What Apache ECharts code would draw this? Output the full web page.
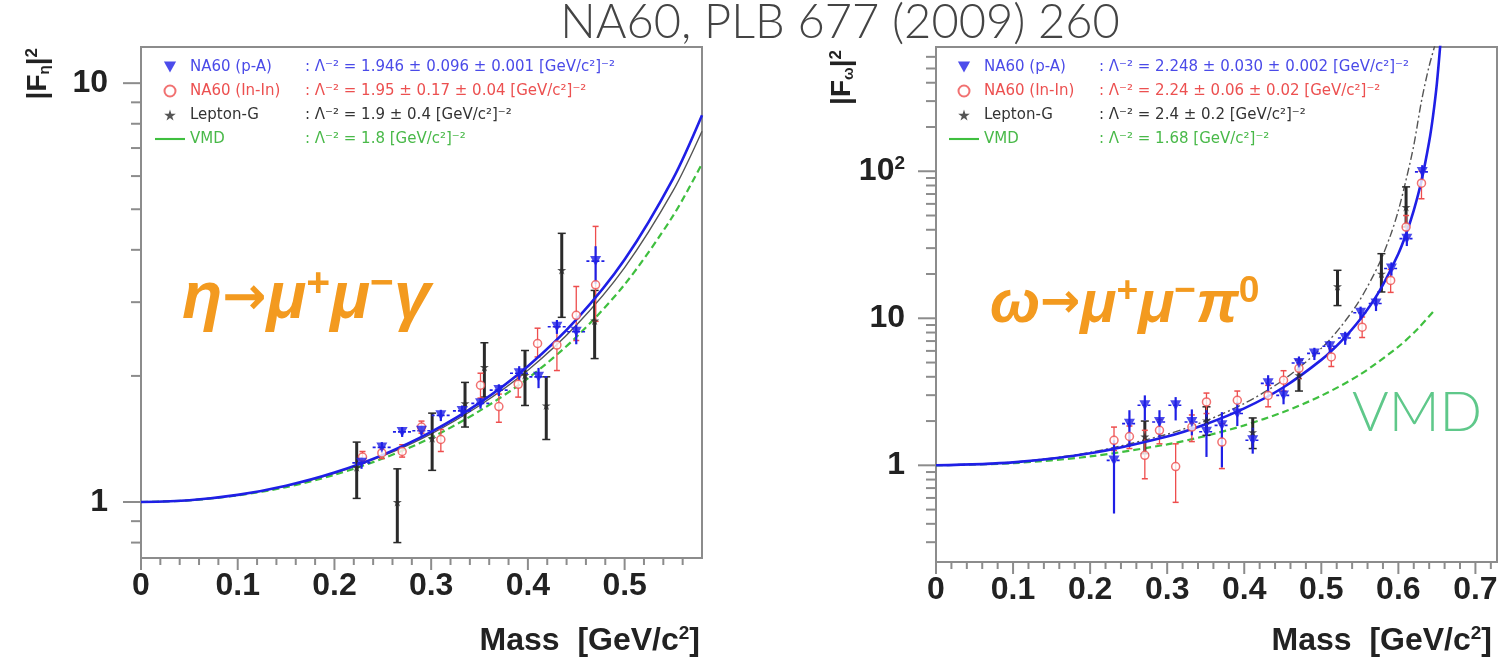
<!DOCTYPE html>
<html>
<head>
<meta charset="utf-8">
<script src="https://cdn.jsdelivr.net/npm/echarts@6/dist/echarts.min.js"></script>
<style>
  html, body { margin: 0; padding: 0; background: #ffffff; }
  #chart { width: 1505px; height: 659px; }
</style>
</head>
<body>
<div id="chart"></div>
<script>
// ---------- eta -> mu+ mu- gamma : |F_eta|^2 vs mass ----------
// points: [mass, value, lower edge, upper edge]
const etaPA = [
  [0.228, 1.24, 1.20, 1.28], [0.249, 1.35, 1.31, 1.39], [0.270, 1.47, 1.43, 1.51],
  [0.290, 1.48, 1.44, 1.52], [0.310, 1.61, 1.56, 1.66], [0.332, 1.65, 1.60, 1.70],
  [0.351, 1.72, 1.67, 1.77], [0.370, 1.85, 1.79, 1.91], [0.391, 2.03, 1.95, 2.11],
  [0.411, 1.99, 1.87, 2.09], [0.430, 2.62, 2.52, 2.72], [0.450, 2.55, 2.38, 2.65],
  [0.470, 3.76, 3.32, 4.08]
];
const etaInIn = [
  [0.229, 1.28, 1.24, 1.32], [0.249, 1.31, 1.27, 1.35], [0.270, 1.32, 1.28, 1.37],
  [0.290, 1.51, 1.46, 1.56], [0.310, 1.41, 1.32, 1.49], [0.351, 1.90, 1.77, 2.03],
  [0.370, 1.69, 1.55, 1.81], [0.390, 1.91, 1.78, 1.99], [0.410, 2.39, 2.22, 2.60],
  [0.430, 2.37, 2.06, 2.62], [0.450, 2.79, 2.43, 3.27], [0.470, 3.30, 2.70, 4.55]
];
const etaLeptonG = [
  [0.223, 1.21, 1.02, 1.39], [0.265, 1.00, 0.80, 1.20], [0.301, 1.42, 1.19, 1.63],
  [0.335, 1.72, 1.51, 1.93], [0.355, 2.10, 1.78, 2.40], [0.397, 2.01, 1.70, 2.30],
  [0.419, 1.70, 1.41, 1.99], [0.435, 3.58, 2.76, 4.38], [0.469, 2.71, 2.20, 3.20]
];
// fitted curves: [mass, value]
const etaFitPA = [
  [0, 1], [0.05, 1.010], [0.1, 1.040], [0.15, 1.094], [0.2, 1.176], [0.25, 1.296],
  [0.3, 1.470], [0.35, 1.724], [0.4, 2.109], [0.45, 2.724], [0.5, 3.792],
  [0.55, 5.910], [0.58, 8.385]
];
const etaFitLeptonG = [
  [0, 1], [0.05, 1.010], [0.1, 1.039], [0.15, 1.091], [0.2, 1.171], [0.25, 1.288],
  [0.3, 1.455], [0.35, 1.700], [0.4, 2.064], [0.45, 2.642], [0.5, 3.628],
  [0.55, 5.530], [0.58, 7.680]
];
const etaVMD = [
  [0, 1], [0.05, 1.009], [0.1, 1.037], [0.15, 1.085], [0.2, 1.161], [0.25, 1.270],
  [0.3, 1.424], [0.35, 1.650], [0.4, 1.973], [0.45, 2.476], [0.5, 3.306],
  [0.55, 4.820], [0.58, 6.426]
];

// ---------- omega -> mu+ mu- pi0 : |F_omega|^2 vs mass ----------
const omegaPA = [
  [0.231, 1.08, 0.47, 1.48], [0.251, 1.92, 1.33, 2.37], [0.271, 2.56, 2.02, 2.99],
  [0.290, 1.97, 1.56, 2.37], [0.311, 2.56, 2.02, 2.91], [0.332, 1.97, 1.60, 2.40],
  [0.351, 1.69, 1.14, 2.37], [0.371, 1.87, 0.97, 2.30], [0.391, 2.25, 1.85, 2.70],
  [0.411, 1.48, 1.20, 1.80], [0.431, 3.61, 3.10, 4.10], [0.451, 2.99, 2.60, 3.40],
  [0.471, 4.97, 4.40, 5.50], [0.491, 5.77, 5.20, 6.30], [0.511, 6.45, 5.90, 7.00],
  [0.531, 7.34, 6.60, 8.10], [0.551, 10.9, 9.80, 12.0], [0.571, 12.6, 11.2, 14.0],
  [0.591, 21.8, 19.5, 24.0], [0.611, 34.8, 31.0, 38.5], [0.631, 99.0, 88.0, 110]
];
const omegaInIn = [
  [0.231, 1.48, 1.26, 1.82], [0.251, 1.57, 1.30, 1.85], [0.271, 1.17, 0.81, 1.73],
  [0.290, 1.73, 1.40, 2.05], [0.311, 0.98, 0.56, 1.40], [0.332, 1.82, 1.45, 2.20],
  [0.351, 2.70, 2.25, 3.10], [0.371, 1.44, 0.95, 1.92], [0.391, 2.77, 2.30, 3.20],
  [0.431, 2.99, 2.50, 3.50], [0.451, 3.79, 3.20, 4.40], [0.471, 4.57, 3.90, 5.20],
  [0.513, 5.46, 4.70, 6.20], [0.553, 8.70, 7.40, 10.2], [0.590, 18.1, 15.0, 21.5],
  [0.610, 41.7, 35.0, 50.0], [0.630, 83.0, 65.0, 100]
];
const omegaLeptonG = [
  [0.271, 1.57, 1.20, 2.00], [0.351, 2.02, 1.60, 2.50], [0.411, 1.68, 1.30, 2.10],
  [0.471, 4.10, 3.20, 5.20], [0.521, 16.5, 12.2, 21.2], [0.578, 20.1, 15.1, 27.5],
  [0.610, 57.1, 41.8, 78.3]
];
const omegaFitPA = [
  [0, 1], [0.1, 1.047], [0.2, 1.207], [0.3, 1.572], [0.35, 1.905], [0.4, 2.439],
  [0.45, 3.370], [0.5, 5.213], [0.525, 6.911], [0.55, 9.767], [0.575, 15.17],
  [0.6, 27.50], [0.61, 37.40], [0.62, 54.17], [0.63, 86.10], [0.64, 159.3],
  [0.645, 238.3], [0.65, 396.5], [0.655, 791]
];
const omegaFitLeptonG = [
  [0, 1], [0.1, 1.050], [0.2, 1.224], [0.3, 1.627], [0.35, 2.006], [0.4, 2.635],
  [0.45, 3.785], [0.5, 6.25], [0.525, 8.727], [0.55, 13.32], [0.575, 23.45],
  [0.59, 36.93], [0.6, 54.07], [0.61, 87.4], [0.62, 150], [0.63, 300],
  [0.64, 520], [0.65, 800]
];
const omegaVMD = [
  [0, 1], [0.1, 1.034], [0.2, 1.149], [0.3, 1.388], [0.35, 1.585], [0.4, 1.870],
  [0.45, 2.297], [0.5, 2.973], [0.55, 4.134], [0.6, 6.403], [0.625, 8.463],
  [0.648, 11.53]
];

// half width of the mass bins (horizontal bars of the p-A points)
const binHalfWidth = 0.0095;

// axis extents and tick positions
const etaMassRange = [0, 0.58];
const etaValueRange = [0.735, 12.2];
const omegaMassRange = [0, 0.728];
const omegaValueRange = [0.22, 700];
const etaXMajor = [0, 0.1, 0.2, 0.3, 0.4, 0.5];
const etaXMinor = [0.02, 0.04, 0.06, 0.08, 0.12, 0.14, 0.16, 0.18, 0.22, 0.24, 0.26, 0.28,
  0.32, 0.34, 0.36, 0.38, 0.42, 0.44, 0.46, 0.48, 0.52, 0.54, 0.56];
const omegaXMajor = [0, 0.1, 0.2, 0.3, 0.4, 0.5, 0.6, 0.7];
const omegaXMinor = [0.02, 0.04, 0.06, 0.08, 0.12, 0.14, 0.16, 0.18, 0.22, 0.24, 0.26, 0.28,
  0.32, 0.34, 0.36, 0.38, 0.42, 0.44, 0.46, 0.48, 0.52, 0.54, 0.56, 0.58,
  0.62, 0.64, 0.66, 0.68, 0.72];
const etaYMajor = [1, 10];
const etaYMinor = [0.8, 0.9, 2, 3, 4, 5, 6, 7, 8, 9];
const omegaYMajor = [1, 10, 100];
const omegaYMinor = [0.3, 0.4, 0.5, 0.6, 0.7, 0.8, 0.9, 2, 3, 4, 5, 6, 7, 8, 9,
  20, 30, 40, 50, 60, 70, 80, 90, 200, 300, 400, 500, 600];

// legend texts
const seriesNames = ['NA60 (p-A)', 'NA60 (In-In)', 'Lepton-G', 'VMD'];
const etaLambda = [
  ': Λ⁻² = 1.946 ± 0.096 ± 0.001 [GeV/c²]⁻²',
  ': Λ⁻² = 1.95 ± 0.17 ± 0.04 [GeV/c²]⁻²',
  ': Λ⁻² = 1.9 ± 0.4 [GeV/c²]⁻²',
  ': Λ⁻² = 1.8 [GeV/c²]⁻²'
];
const omegaLambda = [
  ': Λ⁻² = 2.248 ± 0.030 ± 0.002 [GeV/c²]⁻²',
  ': Λ⁻² = 2.24 ± 0.06 ± 0.02 [GeV/c²]⁻²',
  ': Λ⁻² = 2.4 ± 0.2 [GeV/c²]⁻²',
  ': Λ⁻² = 1.68 [GeV/c²]⁻²'
];

// ---------- styling ----------
const C_BLUE = '#1f1fe6';
const C_RED = '#ee4d4d';
const C_BLACK = '#2a2a2a';
const C_GREEN = '#3fbf3f';
const TXT_BLUE = '#4a4ae8';
const TXT_RED = '#ec5050';
const TXT_BLACK = '#333333';
const TXT_GREEN = '#49b949';
const FRAME = '#8c8c8c';
const NUM_FONT = 'Liberation Sans, Arial, sans-serif';
const SYM_TRI = 'path://M0,0 L10,0 L5,9 Z';
const SYM_STAR = 'path://M50,0 L61,35 L98,35 L68,57 L79,91 L50,70 L21,91 L32,57 L2,35 L39,35 Z';
const SYM_LINE = 'path://M0,0 L34,0 L34,2.4 L0,2.4 Z';

const grids = [
  { left: 141, top: 47, width: 561, height: 511 },
  { left: 936, top: 47, width: 561, height: 515 }
];

function errorBars(color, width, cap, withBin) {
  return function (params, api) {
    const m = api.value(0), v = api.value(1), lo = api.value(2), hi = api.value(3);
    const a = api.coord([m, lo]);
    const b = api.coord([m, hi]);
    const kids = [{
      type: 'line', shape: { x1: a[0], y1: a[1], x2: b[0], y2: b[1] },
      style: { stroke: color, lineWidth: width }
    }];
    if (cap > 0) {
      kids.push({ type: 'line', shape: { x1: a[0] - cap, y1: a[1], x2: a[0] + cap, y2: a[1] },
        style: { stroke: color, lineWidth: 1.5 } });
      kids.push({ type: 'line', shape: { x1: b[0] - cap, y1: b[1], x2: b[0] + cap, y2: b[1] },
        style: { stroke: color, lineWidth: 1.5 } });
    }
    if (withBin) {
      const l = api.coord([m - binHalfWidth, v]);
      const r = api.coord([m + binHalfWidth, v]);
      kids.push({ type: 'line', shape: { x1: l[0], y1: l[1], x2: r[0], y2: r[1] },
        style: { stroke: color, lineWidth: 1.6, lineDash: [3, 2] } });
    }
    return { type: 'group', children: kids };
  };
}

// outward tick marks drawn on the axis scales
function xTicks(yAt, len) {
  return function (params, api) {
    const p = api.coord([api.value(0), yAt]);
    return { type: 'line', shape: { x1: p[0], y1: p[1], x2: p[0], y2: p[1] + len },
      style: { stroke: FRAME, lineWidth: 2 } };
  };
}
function yTicks(xAt, len) {
  return function (params, api) {
    const p = api.coord([xAt, api.value(1)]);
    return { type: 'line', shape: { x1: p[0] - len, y1: p[1], x2: p[0], y2: p[1] },
      style: { stroke: FRAME, lineWidth: 2 } };
  };
}

function panelSeries(idx, pa, inin, lg, fitPA, fitLG, vmd, xr, yr, xMaj, xMin, yMaj, yMin, lgDash) {
  const ax = { xAxisIndex: idx, yAxisIndex: idx };
  return [
    Object.assign({ type: 'line', name: 'VMD', data: vmd, showSymbol: false, smooth: 0.3,
      lineStyle: { color: C_GREEN, width: 2.2, type: [7, 4] }, itemStyle: { color: C_GREEN }, z: 3 }, ax),
    Object.assign({ type: 'line', name: 'Lepton-G fit', data: fitLG, showSymbol: false, smooth: 0.3,
      lineStyle: { color: '#555555', width: 1.4, type: lgDash }, z: 4 }, ax),
    Object.assign({ type: 'custom', name: 'Lepton-G errors', data: lg, renderItem: errorBars(C_BLACK, 3, 4, false), z: 5 }, ax),
    Object.assign({ type: 'custom', name: 'In-In errors', data: inin, renderItem: errorBars(C_RED, 1.3, 3, false), z: 5 }, ax),
    Object.assign({ type: 'custom', name: 'p-A errors', data: pa, renderItem: errorBars(C_BLUE, 2.2, 0, true), z: 6 }, ax),
    Object.assign({ type: 'line', name: 'p-A fit', data: fitPA, showSymbol: false, smooth: 0.3,
      lineStyle: { color: C_BLUE, width: 2.6 }, z: 7 }, ax),
    Object.assign({ type: 'scatter', name: 'Lepton-G', data: lg, symbol: SYM_STAR, symbolSize: 9,
      itemStyle: { color: C_BLACK }, z: 8 }, ax),
    Object.assign({ type: 'scatter', name: 'NA60 (In-In)', data: inin, symbol: 'circle', symbolSize: 8,
      itemStyle: { color: '#ffffff', borderColor: C_RED, borderWidth: 1.5 }, z: 8 }, ax),
    Object.assign({ type: 'scatter', name: 'NA60 (p-A)', data: pa, symbol: SYM_TRI, symbolSize: [11, 10],
      itemStyle: { color: C_BLUE }, z: 9 }, ax),
    Object.assign({ type: 'custom', name: 'x major ticks', data: xMaj.map(v => [v, yr[0]]),
      renderItem: xTicks(yr[0], 12), silent: true, z: 10 }, ax),
    Object.assign({ type: 'custom', name: 'x minor ticks', data: xMin.map(v => [v, yr[0]]),
      renderItem: xTicks(yr[0], 7), silent: true, z: 10 }, ax),
    Object.assign({ type: 'custom', name: 'y major ticks', data: yMaj.map(v => [xr[0], v]),
      renderItem: yTicks(xr[0], 18), silent: true, z: 10 }, ax),
    Object.assign({ type: 'custom', name: 'y minor ticks', data: yMin.map(v => [xr[0], v]),
      renderItem: yTicks(xr[0], 10), silent: true, z: 10 }, ax)
  ];
}

function xAxisCfg(idx, r) {
  return {
    type: 'value', gridIndex: idx, min: r[0], max: r[1], interval: 0.1,
    axisLine: { show: true, onZero: false, lineStyle: { color: FRAME, width: 2 } },
    axisTick: { show: false }, splitLine: { show: false },
    axisLabel: { show: true, margin: 12, showMaxLabel: false, color: '#222',
      fontFamily: NUM_FONT, fontWeight: 'bold', fontSize: 32,
      formatter: v => (v === 0 ? '0' : v.toFixed(1)) }
  };
}
function powerLabel(v) {
  const e = Math.round(Math.log10(v) * 1000) / 1000;
  if (e === 0) return '1';
  if (e === 1) return '10';
  if (e === 2) return '{b|10}{s|2}';
  return '';
}
function yAxisCfg(idx, r, margin) {
  return {
    type: 'log', logBase: 10, gridIndex: idx, min: r[0], max: r[1],
    axisLine: { show: true, lineStyle: { color: FRAME, width: 2 } },
    axisTick: { show: false }, splitLine: { show: false }, minorTick: { show: false },
    axisLabel: { show: true, margin: margin, showMinLabel: false, showMaxLabel: false,
      color: '#222', fontFamily: NUM_FONT, fontWeight: 'bold', fontSize: 32,
      formatter: powerLabel,
      rich: { b: { fontFamily: NUM_FONT, fontWeight: 'bold', fontSize: 32, color: '#222' },
              s: { fontFamily: NUM_FONT, fontWeight: 'bold', fontSize: 19, color: '#222', verticalAlign: 'top', padding: [0, 0, 14, 0] } } }
  };
}

function legendCfg(left, lambdas) {
  const textColors = [TXT_BLUE, TXT_RED, TXT_BLACK, TXT_GREEN];
  const icons = [SYM_TRI, 'circle', SYM_STAR, SYM_LINE];
  const iconStyles = [
    { color: C_BLUE },
    { color: '#ffffff', borderColor: C_RED, borderWidth: 2 },
    { color: C_BLACK },
    { color: C_GREEN }
  ];
  return {
    orient: 'vertical', left: left, top: 53, itemWidth: 30, itemHeight: 11, itemGap: 6,
    selectedMode: false, backgroundColor: 'transparent',
    data: seriesNames.map((n, i) => ({ name: n, icon: icons[i], itemStyle: iconStyles[i],
      textStyle: { color: textColors[i] } })),
    formatter: name => '{n|' + name + '}{v|' + lambdas[seriesNames.indexOf(name)] + '}',
    textStyle: { fontFamily: 'DejaVu Sans, sans-serif', fontSize: 15, lineHeight: 18,
      rich: { n: { width: 115, fontSize: 15, fontFamily: 'DejaVu Sans, sans-serif' },
              v: { fontSize: 15, fontFamily: 'DejaVu Sans, sans-serif' } } }
  };
}

const orange = '#f39a1f';
function greekRich(size) {
  return {
    g: { fontFamily: 'Liberation Sans, DejaVu Sans, sans-serif', fontStyle: 'italic', fontWeight: 'bold', fontSize: size, fill: orange },
    a: { fontFamily: 'DejaVu Sans, sans-serif', fontWeight: 'bold', fontSize: size * 0.8, fill: orange },
    s: { fontFamily: 'Liberation Sans, sans-serif', fontWeight: 'bold', fontSize: size * 0.62, fill: orange, verticalAlign: 'top', padding: [0, 0, size * 0.45, 0] }
  };
}
const labelRich = {
  t: { fontFamily: NUM_FONT, fontWeight: 'bold', fontSize: 32, fill: '#222' },
  s: { fontFamily: NUM_FONT, fontWeight: 'bold', fontSize: 19, fill: '#222', verticalAlign: 'top', padding: [0, 0, 14, 0] }
};
const yNameRich = {
  t: { fontFamily: NUM_FONT, fontWeight: 'bold', fontSize: 28, fill: '#222' },
  u: { fontFamily: NUM_FONT, fontWeight: 'bold', fontSize: 15, fill: '#222', verticalAlign: 'bottom', padding: [12, 0, 0, 0] },
  s: { fontFamily: NUM_FONT, fontWeight: 'bold', fontSize: 17, fill: '#222', verticalAlign: 'top', padding: [0, 0, 12, 0] }
};

const chart = echarts.init(document.getElementById('chart'), null, { renderer: 'canvas' });
chart.setOption({
  backgroundColor: '#ffffff',
  animation: false,
  grid: grids.map(g => Object.assign({ show: true, borderColor: FRAME, borderWidth: 2, backgroundColor: 'transparent' }, g)),
  xAxis: [xAxisCfg(0, etaMassRange), xAxisCfg(1, omegaMassRange)],
  yAxis: [yAxisCfg(0, etaValueRange, 33), yAxisCfg(1, omegaValueRange, 31)],
  legend: [legendCfg(150, etaLambda), legendCfg(944, omegaLambda)],
  series: [].concat(
    panelSeries(0, etaPA, etaInIn, etaLeptonG, etaFitPA, etaFitLeptonG, etaVMD,
      etaMassRange, etaValueRange, etaXMajor, etaXMinor, etaYMajor, etaYMinor, 'solid'),
    panelSeries(1, omegaPA, omegaInIn, omegaLeptonG, omegaFitPA, omegaFitLeptonG, omegaVMD,
      omegaMassRange, omegaValueRange, omegaXMajor, omegaXMinor, omegaYMajor, omegaYMinor, [8, 3, 2, 3])
  ),
  graphic: [
    { type: 'text', x: 840, y: 23, style: { text: 'NA60, PLB 677 (2009) 260', fontFamily: 'Lato, sans-serif',
      fontWeight: 300, fontSize: 47, fill: '#444444', align: 'center', verticalAlign: 'middle' }, z: 20 },
    { type: 'text', x: 182, y: 300, style: { text: '{g|η}{a|→}{g|μ}{s|+}{g|μ}{s|−}{g|γ}', rich: greekRich(66),
      verticalAlign: 'middle', align: 'left' }, z: 20 },
    { type: 'text', x: 990, y: 305, style: { text: '{g|ω}{a|→}{g|μ}{s|+}{g|μ}{s|−}{g|π}{s|0}', rich: greekRich(60),
      verticalAlign: 'middle', align: 'left' }, z: 20 },
    { type: 'text', x: 1352, y: 413, style: { text: 'VMD', fontFamily: 'Lato, sans-serif', fontWeight: 300,
      fontSize: 56, fill: '#5fc88a', verticalAlign: 'middle', align: 'left' }, z: 20 },
    { type: 'text', x: 700, y: 641, style: { text: '{t|Mass  [GeV/c}{s|2}{t|]}', align: 'right', verticalAlign: 'middle',
      rich: labelRich }, z: 20 },
    { type: 'text', x: 1492, y: 641, style: { text: '{t|Mass  [GeV/c}{s|2}{t|]}', align: 'right', verticalAlign: 'middle',
      rich: labelRich }, z: 20 },
    { type: 'text', x: 38, y: 48, rotation: Math.PI / 2, style: { text: '{t||F}{u|η}{t||}{s|2}', align: 'right', verticalAlign: 'middle',
      rich: yNameRich }, z: 20 },
    { type: 'text', x: 842, y: 50, rotation: Math.PI / 2, style: { text: '{t||F}{u|ω}{t||}{s|2}', align: 'right', verticalAlign: 'middle',
      rich: yNameRich }, z: 20 }
  ]
});
</script>
</body>
</html>
